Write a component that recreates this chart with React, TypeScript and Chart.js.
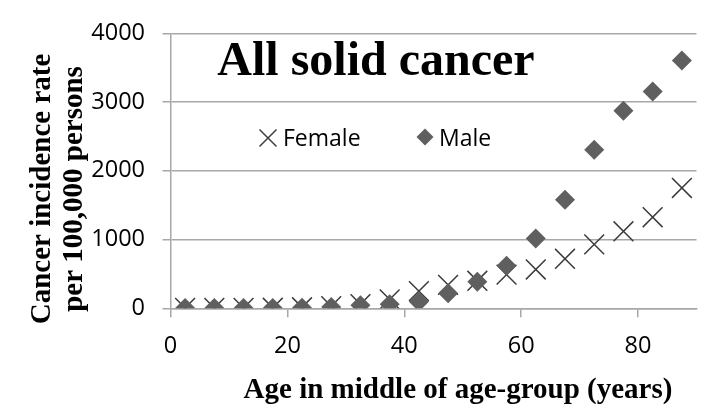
import { useEffect, useRef } from 'react';
import { Chart, registerables } from 'chart.js';

Chart.register(...registerables);

const ages = [2.5, 7.5, 12.5, 17.5, 22.5, 27.5, 32.5, 37.5, 42.5, 47.5, 52.5, 57.5, 62.5, 67.5, 72.5, 77.5, 82.5, 87.5];
const femaleRates = [5, 5, 5, 8, 15, 30, 60, 130, 250, 340, 400, 490, 565, 720, 930, 1120, 1325, 1750];
const maleRates = [5, 5, 5, 5, 8, 18, 45, 60, 95, 220, 385, 620, 1015, 1580, 2305, 2875, 3155, 3605];
const xTicks = [0, 20, 40, 60, 80];
const yTicks = [0, 1000, 2000, 3000, 4000];
const seriesNames = ['Female', 'Male'];
const chartTitle = 'All solid cancer';
const xTitle = 'Age in middle of age-group (years)';
const yTitle = ['Cancer incidence rate', 'per 100,000 persons'];

const SANS = "'Open Sans', 'Noto Sans', sans-serif";
const SERIF = "'Liberation Serif', 'DejaVu Serif', serif";
const GRID = '#a8a8a8';
const DIAMOND = '#5f5f5f';
const CROSS = '#3c3c3c';

const overlayPlugin = {
  id: 'overlay',
  afterDraw(chart: any) {
    const ctx = chart.ctx as CanvasRenderingContext2D;
    ctx.save();
    // chart title inside plot
    ctx.fillStyle = '#000';
    ctx.font = `bold 48px ${SERIF}`;
    ctx.textAlign = 'center';
    ctx.textBaseline = 'alphabetic';
    ctx.fillText(chartTitle, 376, 75);

    // legend
    ctx.font = `23px ${SANS}`;
    ctx.textAlign = 'left';
    ctx.textBaseline = 'middle';
    const cx = 268, cy = 138, h = 8.5;
    ctx.strokeStyle = CROSS;
    ctx.lineWidth = 1.5;
    ctx.beginPath();
    ctx.moveTo(cx - h, cy - h); ctx.lineTo(cx + h, cy + h);
    ctx.moveTo(cx - h, cy + h); ctx.lineTo(cx + h, cy - h);
    ctx.stroke();
    ctx.fillStyle = '#000';
    ctx.fillText(seriesNames[0], 283, 139);
    const dx = 425, dy = 137, r = 8.5;
    ctx.fillStyle = DIAMOND;
    ctx.beginPath();
    ctx.moveTo(dx - r, dy); ctx.lineTo(dx, dy - r); ctx.lineTo(dx + r, dy); ctx.lineTo(dx, dy + r);
    ctx.closePath();
    ctx.fill();
    ctx.fillStyle = '#000';
    ctx.fillText(seriesNames[1], 439, 139);

    // x axis title
    ctx.font = `bold 29px ${SERIF}`;
    ctx.textAlign = 'center';
    ctx.textBaseline = 'alphabetic';
    ctx.fillText(xTitle, 458, 398);

    // y axis title
    const baselines = [50, 82];
    yTitle.forEach((line, i) => {
      ctx.save();
      ctx.translate(baselines[i], 189);
      ctx.rotate(-Math.PI / 2);
      ctx.fillText(line, 0, 0);
      ctx.restore();
    });
    ctx.restore();
  },
};

export default function App() {
  const ref = useRef<HTMLCanvasElement | null>(null);
  useEffect(() => {
    if (!ref.current) return;
    const chart = new Chart(ref.current, {
      type: 'scatter',
      data: {
        datasets: [
          {
            label: seriesNames[1],
            data: ages.map((a, i) => ({ x: a, y: maleRates[i] })),
            pointStyle: 'rectRot',
            pointRadius: 10,
            backgroundColor: DIAMOND,
            borderColor: DIAMOND,
            borderWidth: 0,
            showLine: false,
          },
          {
            label: seriesNames[0],
            data: ages.map((a, i) => ({ x: a, y: femaleRates[i] })),
            pointStyle: 'crossRot',
            pointRadius: 14,
            backgroundColor: CROSS,
            borderColor: CROSS,
            borderWidth: 1.5,
            showLine: false,
          },
        ],
      },
      options: {
        animation: false,
        responsive: true,
        maintainAspectRatio: false,
        events: [],
        layout: { padding: { top: 33.3, left: 0, right: 0, bottom: 0 } },
        plugins: { legend: { display: false }, tooltip: { enabled: false }, title: { display: false } },
        scales: {
          x: {
            type: 'linear',
            min: 0,
            max: 90,
            afterBuildTicks: (s: any) => { s.ticks = xTicks.map((v) => ({ value: v })); },
            afterFit: (s: any) => { s.height = 405 - 308.3; },
            ticks: { stepSize: 20, includeBounds: false, maxRotation: 0, autoSkip: false, padding: 15, color: '#000', font: { family: SANS, size: 23.5 }, callback: (v: any) => String(v) },
            grid: { drawOnChartArea: false, drawTicks: true, tickLength: 9, color: GRID, lineWidth: 1.5 },
            border: { display: true, color: GRID, width: 1.5 },
          },
          y: {
            type: 'linear',
            min: 0,
            max: 4000,
            afterBuildTicks: (s: any) => { s.ticks = yTicks.map((v) => ({ value: v })); },
            afterFit: (s: any) => { s.width = 170.5; },
            ticks: { stepSize: 1000, padding: 17.5, color: '#000', font: { family: SANS, size: 23.5 }, callback: (v: any) => String(v) },
            grid: { drawOnChartArea: true, drawTicks: true, tickLength: 8, color: GRID, lineWidth: 1.5 },
            border: { display: true, color: GRID, width: 1.5 },
          },
        },
      },
      plugins: [overlayPlugin],
    });
    return () => chart.destroy();
  }, []);
  return (
    <div style={{ position: 'fixed', left: 0, top: 0, width: 712, height: 405, background: '#fff' }}>
      <canvas ref={ref} />
    </div>
  );
}
